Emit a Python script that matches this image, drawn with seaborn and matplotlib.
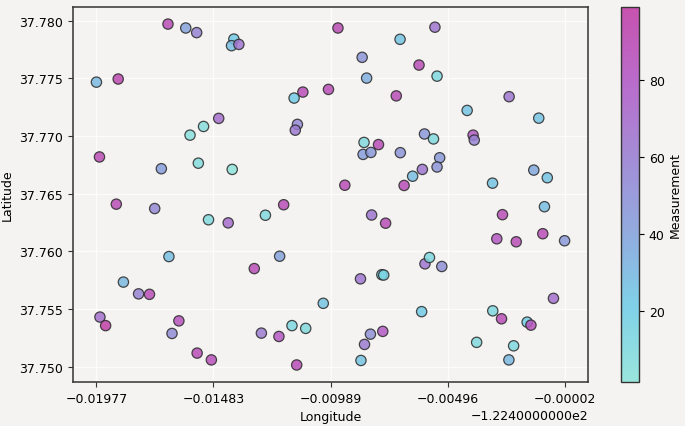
import numpy as np
import pandas as pd
import matplotlib
matplotlib.use("Agg")
import matplotlib.pyplot as plt
import seaborn as sns
from matplotlib.colors import LinearSegmentedColormap, Normalize
from matplotlib.ticker import ScalarFormatter

longitude = [
    -122.41675, -122.41600, -122.41554, -122.41397, -122.41407, -122.41376, -122.419768, -122.41885,
    -122.41461, -122.41525, -122.41582, -122.41964, -122.41703, -122.41547, -122.41404, -122.40958,
    -122.40696, -122.40856, -122.40616, -122.40837, -122.41106, -122.41143, -122.40998, -122.40712,
    -122.41129, -122.41138, -122.40593, -122.40848, -122.40787, -122.40852, -122.40819, -122.40695,
    -122.40602, -122.40643, -122.40929, -122.40679, -122.40549, -122.40540, -122.40236, -122.40413,
    -122.40111, -122.40555, -122.40388, -122.40383, -122.40529, -122.40540, -122.40132, -122.40075,
    -122.40306, -122.41893, -122.41731, -122.41504, -122.41421, -122.41671, -122.41311, -122.41863,
    -122.41799, -122.41753, -122.41962, -122.41938, -122.41629, -122.41658, -122.41552, -122.41492,
    -122.41187, -122.41264, -122.40816, -122.40757, -122.41204, -122.40863, -122.40773, -122.40765,
    -122.40591, -122.41020, -122.40605, -122.41152, -122.41094, -122.41281, -122.41207, -122.40821,
    -122.40769, -122.40846, -122.41132, -122.40861, -122.40087, -122.40264, -122.40288, -122.40206,
    -122.40094, -122.40002, -122.40572, -122.40520, -122.40049, -122.40305, -122.40268, -122.40160,
    -122.40144, -122.40373, -122.40217, -122.40237,
]
latitude = [
    37.77970, 37.77936, 37.77896, 37.77840, 37.77783, 37.77794, 37.77467, 37.77494,
    37.77153, 37.77083, 37.77008, 37.76819, 37.76717, 37.76765, 37.76711, 37.77936,
    37.77838, 37.77682, 37.77615, 37.77502, 37.77381, 37.77329, 37.77404, 37.77348,
    37.77101, 37.77051, 37.77018, 37.76945, 37.76926, 37.76841, 37.76858, 37.76856,
    37.76711, 37.76652, 37.76574, 37.76572, 37.77943, 37.77519, 37.77341, 37.77222,
    37.77155, 37.76975, 37.77008, 37.76965, 37.76812, 37.76732, 37.76705, 37.76639,
    37.76592, 37.76410, 37.76372, 37.76275, 37.76248, 37.75956, 37.75852, 37.75735,
    37.75633, 37.75629, 37.75432, 37.75358, 37.75399, 37.75290, 37.75120, 37.75061,
    37.76405, 37.76314, 37.76316, 37.76245, 37.75959, 37.75763, 37.75799, 37.75796,
    37.75893, 37.75551, 37.75479, 37.75358, 37.75334, 37.75293, 37.75264, 37.75284,
    37.75308, 37.75195, 37.75017, 37.75056, 37.76388, 37.76319, 37.76110, 37.76084,
    37.76154, 37.76093, 37.75948, 37.75870, 37.75594, 37.75486, 37.75417, 37.75388,
    37.75362, 37.75213, 37.75183, 37.75061,
]
measurement = [
    88, 40, 58, 22, 28, 65, 30, 92,
    70, 6, 5, 90, 42, 8, 2, 90,
    25, 48, 88, 35, 88, 22, 88, 88,
    55, 62, 45, 10, 88, 42, 45, 48,
    65, 28, 88, 88, 65, 12, 65, 25,
    25, 10, 80, 58, 45, 48, 38, 25,
    25, 88, 55, 10, 70, 28, 88, 30,
    58, 88, 68, 98, 85, 52, 88, 86,
    88, 10, 65, 88, 40, 65, 18, 15,
    65, 25, 22, 12, 10, 62, 82, 50,
    80, 62, 88, 25, 28, 88, 82, 88,
    88, 45, 12, 50, 68, 12, 88, 20,
    85, 10, 12, 30,
]


class LongOffsetFormatter(ScalarFormatter):
    # offset shown as e.g. -1.2240000000e2
    def get_offset(self):
        if not self.offset:
            return super().get_offset()
        e = int(np.floor(np.log10(abs(self.offset))))
        s = round(self.offset / 10 ** e, 10)
        return self.fix_minus(f"{s:1.10f}e{e}")


df = pd.DataFrame({"Longitude": longitude, "Latitude": latitude, "Measurement": measurement})

bg = "#f4f3f1"
cmap = LinearSegmentedColormap.from_list(
    "turq_magenta",
    ["#8fe3da", "#72cde6", "#86a2dc", "#9a80d2", "#b25cc6", "#c13fa6"],
)
norm = Normalize(vmin=df["Measurement"].min() - 0.5, vmax=df["Measurement"].max() + 1)

plt.rcParams["font.family"] = ["DejaVu Sans"]
fig = plt.figure(figsize=(6.85, 4.27), dpi=100, facecolor=bg)
ax = fig.add_axes([0.1066, 0.103, 0.7518, 0.8782], facecolor=bg)
cax = fig.add_axes([0.9066, 0.103, 0.0263, 0.8782])

sns.scatterplot(data=df, x="Longitude", y="Latitude", hue="Measurement",
                palette=cmap, hue_norm=norm, s=55, edgecolor="#2a2a2a",
                linewidth=0.9, alpha=0.85, legend=False, ax=ax, zorder=3)

ax.grid(True, color="white", linewidth=0.9, alpha=0.8, zorder=0)
ax.set_axisbelow(True)
ax.xaxis.set_major_formatter(LongOffsetFormatter())
ax.set_xticks(np.linspace(df["Longitude"].min(), df["Longitude"].max(), 5))
ax.set_xlabel("Longitude", fontsize=9)
ax.set_ylabel("Latitude", fontsize=9)
ax.tick_params(labelsize=9, length=3.5, width=0.8, color="#333333")
ax.xaxis.get_offset_text().set_fontsize(9)
for sp in ax.spines.values():
    sp.set_color("#333333")
    sp.set_linewidth(1.1)

sm = plt.cm.ScalarMappable(norm=norm, cmap=cmap)
cb = fig.colorbar(sm, cax=cax, alpha=0.9)
cb.set_ticks([20, 40, 60, 80])
cb.set_label("Measurement", fontsize=9, labelpad=3)
cb.ax.tick_params(labelsize=9, length=3.5, width=0.8)
cb.outline.set_edgecolor("#333333")
cb.outline.set_linewidth(1.0)

plt.savefig("out.png", dpi=100, facecolor=bg)
